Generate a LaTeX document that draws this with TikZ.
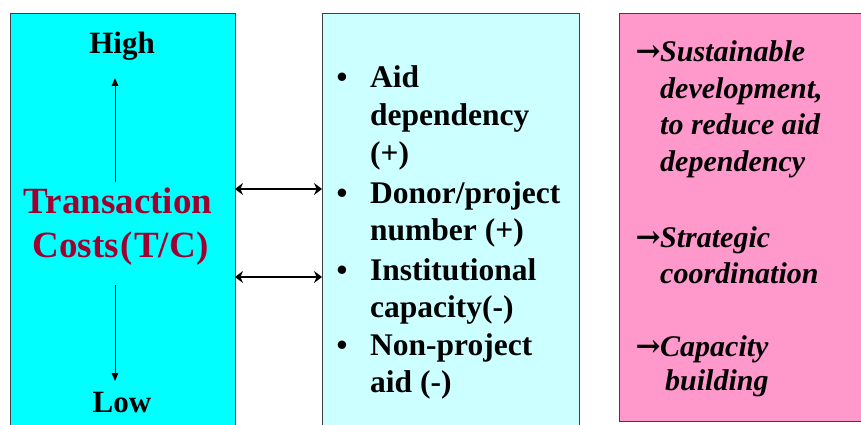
\documentclass[tikz,border=0pt]{standalone}
\usepackage{fontspec}
\setmainfont{Liberation Serif}
\newfontfamily\arrowfont{DejaVu Serif}
\usetikzlibrary{arrows.meta}
\definecolor{cyanbox}{HTML}{00FFFF}
\definecolor{lightcyanbox}{HTML}{CCFFFF}
\definecolor{pinkbox}{HTML}{FF99CC}
\definecolor{tcred}{HTML}{A00030}
\definecolor{edgegray}{HTML}{404040}
\tikzset{
  panel/.style={draw=edgegray, line width=0.9pt, anchor=north west, inner sep=0pt, outer sep=0pt},
  lrtext/.style={anchor=base, inner sep=0pt, font=\fontsize{31}{37}\selectfont\bfseries},
  tctext/.style={anchor=base, inner sep=0pt, text=tcred, font=\fontsize{37}{44}\selectfont\bfseries},
  mtext/.style={anchor=base west, inner sep=0pt, font=\fontsize{31.5}{37}\selectfont\bfseries},
  bul/.style={anchor=base, inner sep=0pt, font=\fontsize{31}{37}\selectfont\bfseries},
  rtext/.style={anchor=base west, inner sep=0pt, font=\fontsize{30}{36}\selectfont\bfseries\itshape},
  rarrow/.style={anchor=base east, inner sep=0pt, font=\fontsize{30}{36}\selectfont\arrowfont\bfseries},
  vline/.style={line width=1pt, -{Triangle[length=8pt,width=6.5pt]}},
  hline/.style={line width=1.6pt, {Stealth[length=8pt,width=12pt]}-{Stealth[length=8pt,width=12pt]}}
}
\begin{document}
\begin{tikzpicture}[x=1pt,y=-1pt]
\useasboundingbox (0,0) rectangle (861,425);
\clip (0,0) rectangle (861,425);
\fill[white] (0,0) rectangle (861,425);
% panels
\node[panel, fill=cyanbox, minimum width=225pt, minimum height=440pt] (left) at (10,13) {};
\node[panel, fill=lightcyanbox, minimum width=257pt, minimum height=440pt] (mid) at (322,13) {};
\node[panel, fill=pinkbox, minimum width=260pt, minimum height=408pt] (right) at (619,13) {};
% left texts
\node[lrtext] (high) at (122,54) {High};
\node[lrtext] (low) at (122,412) {Low};
\node[tctext] (tc1) at (118,213) {Transaction};
\node[tctext] (tc2) at (121,257) {Costs\kern2pt(\kern1pt T/C\kern1pt)};
% vertical arrows
\coordinate (upstart) at (115,182);
\coordinate (upend) at (115,78);
\coordinate (dnstart) at (115,285);
\coordinate (dnend) at (115,381);
\draw[vline] (upstart) -- (upend);
\draw[vline] (dnstart) -- (dnend);
% horizontal double arrows
\coordinate (r1) at (0,189);
\coordinate (r2) at (0,277);
\draw[hline] (left.east |- r1) -- (mid.west |- r1);
\draw[hline] (left.east |- r2) -- (mid.west |- r2);
% middle texts
\node[bul] (b1) at (342,88) {•};
\node[mtext] (m1) at (370,88) {Aid};
\node[mtext] (m2) at (370,125.5) {dependency};
\node[mtext] (m3) at (370,163) {(+)};
\node[bul] (b2) at (342,203) {•};
\node[mtext] (m4) at (370,203) {Donor/project};
\node[mtext] (m5) at (370,240.5) {number (+)};
\node[bul] (b3) at (342,280) {•};
\node[mtext] (m6) at (370,280) {Institutional};
\node[mtext] (m7) at (370,317.5) {capacity(-)};
\node[bul] (b4) at (342,355) {•};
\node[mtext] (m8) at (370,355) {Non-project};
\node[mtext] (m9) at (370,392.5) {aid (-)};
% right texts
\node[rarrow] (a1) at (661,62) {→};
\node[rtext] (s1) at (660,62) {Sustainable};
\node[rtext] (s2) at (660,98.5) {development,};
\node[rtext] (s3) at (660,135) {to reduce aid};
\node[rtext] (s4) at (660,171.5) {dependency};
\node[rarrow] (a2) at (661,247) {→};
\node[rtext] (s5) at (660,247) {Strategic};
\node[rtext] (s6) at (660,283) {coordination};
\node[rarrow] (a3) at (661,356) {→};
\node[rtext] (s7) at (660,356) {Capacity};
\node[rtext] (s8) at (665,390) {building};
\end{tikzpicture}
\end{document}
